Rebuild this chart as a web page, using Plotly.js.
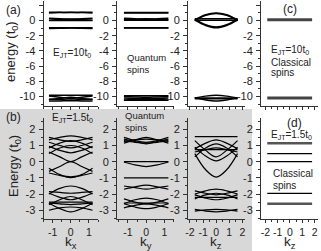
<!DOCTYPE html>
<html><head><meta charset="utf-8">
<script src="https://cdn.plot.ly/plotly-3.0.1.min.js"></script>
<style>html,body{margin:0;padding:0;background:#fff}#g{width:321px;height:251px}</style>
</head><body><div id="g"></div>
<script>
// ---- k grids (x positions of band sample points) ----
const kx = [-1.2, -0.6, 0, 0.6, 1.2];
const ky = [-1.22, -0.61, 0, 0.61, 1.22];
const kz = [-1.63, -0.8, 0, 0.8, 1.63];
const kc = [-1.85, 1.8];

// ---- (a) E_JT = 10 t0, quantum spins ----
const aKx = [
  [1.0, 1.05, 1.1, 1.05, 1.0], [1.1, 1.08, 1.05, 1.08, 1.1],
  [0.3, 0.22, 0.15, 0.22, 0.3], [0.05, 0.12, 0.2, 0.12, 0.05], [0.0, 0.0, 0.0, 0.0, 0.0],
  [-0.95, -0.95, -0.95, -0.95, -0.95], [-1.05, -1.02, -1.0, -1.02, -1.05],
  [-9.85, -9.85, -9.85, -9.85, -9.85], [-9.95, -10.1, -10.25, -10.1, -9.95],
  [-10.4, -10.25, -10.1, -10.25, -10.4], [-10.35, -10.4, -10.45, -10.4, -10.35],
  [-10.6, -10.58, -10.55, -10.58, -10.6]
];
const aKy = [
  [1.05, 1.05, 1.05, 1.05, 1.05], [1.0, 1.0, 1.0, 1.0, 1.0],
  [0.3, 0.25, 0.15, 0.25, 0.3], [0.1, 0.15, 0.25, 0.15, 0.1], [0.02, 0.02, 0.02, 0.02, 0.02],
  [-0.95, -0.95, -0.95, -0.95, -0.95], [-1.0, -1.0, -1.0, -1.0, -1.0],
  [-9.9, -9.9, -9.9, -9.9, -9.9], [-10.0, -10.05, -10.1, -10.05, -10.0],
  [-10.2, -10.25, -10.3, -10.25, -10.2], [-10.45, -10.4, -10.35, -10.4, -10.45],
  [-10.5, -10.5, -10.5, -10.5, -10.5]
];
const aKz = [
  [0.0, 0.75, 1.0, 0.75, 0.0], [0.1, 0.7, 0.92, 0.7, 0.1],
  [0.05, -0.65, -0.95, -0.65, 0.05], [0.15, -0.55, -0.85, -0.55, 0.15],
  [0.25, 0.25, 0.25, 0.25, 0.25], [0.05, 0.05, 0.05, 0.05, 0.05],
  [-10.2, -9.95, -9.85, -9.95, -10.2], [-10.15, -10.45, -10.6, -10.45, -10.15],
  [-10.2, -10.2, -10.2, -10.2, -10.2], [-10.3, -10.3, -10.3, -10.3, -10.3]
];
// (c) classical spins, E_JT = 10 t0
const cLevels = [0.1, -10.2];

// ---- (b) E_JT = 1.5 t0, quantum spins ----
const bKx = [
  [1.35, 1.5, 1.6, 1.5, 1.35], [1.5, 1.35, 1.25, 1.35, 1.5],
  [1.2, 1.0, 0.85, 1.0, 1.2], [0.85, 1.15, 1.3, 1.15, 0.85],
  [0.5, 0.85, 1.0, 0.85, 0.5], [0.95, 0.7, 0.55, 0.7, 0.95],
  [0.6, 0.3, 0.0, 0.3, 0.6], [-0.6, -0.3, 0.0, -0.3, -0.6],
  [-0.4, -0.8, -0.98, -0.8, -0.4], [-0.7, -0.85, -0.93, -0.85, -0.7],
  [-2.0, -1.65, -1.5, -1.65, -2.0], [-1.85, -1.9, -1.95, -1.9, -1.85],
  [-1.95, -2.2, -2.35, -2.2, -1.95], [-2.65, -2.35, -2.15, -2.35, -2.65],
  [-2.5, -2.5, -2.5, -2.5, -2.5], [-2.55, -2.6, -2.65, -2.6, -2.55],
  [-2.55, -2.9, -3.1, -2.9, -2.55], [-3.0, -2.85, -2.8, -2.85, -3.0]
];
const bKy = [
  [1.15, 1.35, 1.5, 1.35, 1.15], [1.5, 1.3, 1.2, 1.3, 1.5],
  [1.25, 1.35, 1.4, 1.35, 1.25], [1.4, 1.25, 1.1, 1.25, 1.4],
  [1.3, 1.2, 1.15, 1.2, 1.3],
  [0.0, 0.0, 0.0, 0.0, 0.0], [-0.02, -0.2, -0.3, -0.2, -0.02],
  [-1.0, -1.0, -1.0, -1.0, -1.0],
  [-1.7, -1.55, -1.45, -1.55, -1.7], [-1.5, -1.6, -1.7, -1.6, -1.5],
  [-2.6, -2.35, -2.25, -2.35, -2.6], [-2.3, -2.5, -2.6, -2.5, -2.3],
  [-2.55, -2.55, -2.55, -2.55, -2.55], [-2.85, -2.7, -2.6, -2.7, -2.85],
  [-2.6, -2.8, -2.9, -2.8, -2.6]
];
const bKz = [
  [1.55, 1.55, 1.55, 1.55, 1.55], [0.8, 1.15, 1.35, 1.15, 0.8],
  [0.3, 0.85, 1.1, 0.85, 0.3], [0.75, 0.75, 0.75, 0.75, 0.75],
  [1.3, 0.7, 0.3, 0.7, 1.3], [0.9, 0.35, 0.05, 0.35, 0.9],
  [0.5, -0.5, -0.95, -0.5, 0.5], [0.6, 0.75, 0.85, 0.75, 0.6],
  [-2.0, -1.8, -1.7, -1.8, -2.0], [-1.8, -1.95, -2.05, -1.95, -1.8],
  [-2.3, -2.05, -1.95, -2.05, -2.3], [-2.2, -2.2, -2.2, -2.2, -2.2],
  [-2.05, -2.25, -2.35, -2.25, -2.05],
  [-3.05, -2.98, -2.95, -2.98, -3.05], [-2.95, -3.05, -3.1, -3.05, -2.95]
];
// (d) classical spins, E_JT = 1.5 t0
const dLevels = [1.14, 0.5, 0.0, -1.96, -2.6];
const dThick = [true, false, false, false, true];

// tick labels
const kTicks12 = [-1, 0, 1];
const kTicks34 = [-2, -1, 0, 1, 2];
const eTicksTop = [-10, -8, -6, -4, -2, 0, 2];
const eTicksBot = [-3, -2, -1, 0, 1, 2];

// ---- layout geometry (pixels) ----
const W = 321, H = 251;
const fx = p => p / W, fy = p => 1 - p / H;
const cols = [
  {l: 43.5, r: 98, range: [-1.5, 1.5], ticks: kTicks12},
  {l: 117, r: 173.5, range: [-1.6, 1.5], ticks: kTicks12},
  {l: 188, r: 245, range: [-2.15, 2.2], ticks: kTicks34},
  {l: 261, r: 318, range: [-2.36, 2.28], ticks: kTicks34}
];
const rows = [
  {t: 1, b: 106, range: [-11.25, 2.57], ticks: eTicksTop, minor: 1},
  {t: 118, b: 219, range: [-3.54, 2.7], ticks: eTicksBot, minor: 0.5}
];
const hy = v => String(v).replace('\u2212', '-');
const FONT = 'Arial, "Liberation Sans", sans-serif';

const traces = [];
const ax = p => (p === 1 ? '' : String(p));
function addBands(p, ks, bands, w, color) {
  bands.forEach(b => traces.push({
    x: ks, y: b, xaxis: 'x' + ax(p), yaxis: 'y' + ax(p), type: 'scatter', mode: 'lines',
    line: {color: color, width: w, shape: 'spline', smoothing: 1},
    hoverinfo: 'skip', showlegend: false
  }));
}
addBands(1, kx, aKx, 1.5, '#000');
addBands(2, ky, aKy, 1.5, '#000');
addBands(3, kz, aKz, 1.5, '#000');
addBands(4, kc, cLevels.map(v => [v, v]), 3, '#444');
addBands(5, kx, bKx, 1.2, '#000');
addBands(6, ky, bKy, 1.2, '#000');
addBands(7, kz, bKz, 1.2, '#000');
dLevels.forEach((v, i) => addBands(8, kc, [[v, v]], dThick[i] ? 2.6 : 1.2, dThick[i] ? '#555' : '#000'));

const layout = {
  width: W, height: H, margin: {l: 0, r: 0, t: 0, b: 0},
  paper_bgcolor: '#fff', plot_bgcolor: 'rgba(0,0,0,0)',
  font: {family: FONT, size: 11, color: '#222'},
  showlegend: false,
  shapes: [{type: 'rect', xref: 'paper', yref: 'paper', x0: 0, x1: fx(252), y0: 0, y1: fy(109),
    fillcolor: '#d8d8d8', line: {width: 0}, layer: 'below'}],
  annotations: []
};
for (let r = 0; r < 2; r++) {
  for (let c = 0; c < 4; c++) {
    const p = r * 4 + c + 1;
    const C = cols[c], R = rows[r];
    layout['xaxis' + ax(p)] = {
      domain: [fx(C.l), fx(C.r)], range: C.range, anchor: 'y' + ax(p),
      showline: true, linecolor: '#333', linewidth: 1, mirror: false,
      showgrid: false, zeroline: false, ticks: 'outside', ticklen: 3, tickwidth: 1, tickcolor: '#333',
      tickvals: C.ticks, ticktext: C.ticks.map(hy), showticklabels: r === 1, ticklabelstandoff: 0,
      tickfont: {size: 10.5, color: '#222', family: FONT},
      minor: {dtick: 0.5, ticks: 'outside', ticklen: 2, tickcolor: '#333', showgrid: false},
      fixedrange: true
    };
    layout['yaxis' + ax(p)] = {
      domain: [fy(R.b), fy(R.t)], range: R.range, anchor: 'x' + ax(p),
      showline: true, linecolor: '#333', linewidth: 1, mirror: false,
      showgrid: false, zeroline: false, ticks: 'outside', ticklen: 4, tickwidth: 1, tickcolor: '#333',
      tickvals: R.ticks, ticktext: R.ticks.map(hy), ticklabelstandoff: 1,
      tickfont: {size: 11, color: '#222', family: FONT},
      minor: {dtick: R.minor, ticks: 'outside', ticklen: 2, tickcolor: '#333', showgrid: false},
      fixedrange: true
    };
  }
}
function ann(text, x, y, size, xanchor, extra) {
  layout.annotations.push(Object.assign({
    text: text, xref: 'paper', yref: 'paper', x: fx(x), y: fy(y), showarrow: false,
    xanchor: xanchor || 'center', yanchor: 'middle', align: 'left', borderpad: 0,
    font: {family: FONT, size: size, color: '#222'}
  }, extra || {}));
}
ann('(a)', 13, 10, 12);
ann('(b)', 13, 117, 12);
ann('(c)', 290, 9, 12);
ann('(d)', 294, 123, 12);
ann('E<sub>JT</sub>=10t<sub>0</sub>', 72, 53, 10);
ann('Quantum<br>spins', 126, 63, 9.5, 'left');
ann('E<sub>JT</sub>=10t<sub>0</sub>', 270, 50, 10, 'left');
ann('Classical', 270, 62, 10, 'left');
ann('spins', 270, 73, 10, 'left');
ann('E<sub>JT</sub>=1.5t<sub>0</sub>', 72, 118, 10);
ann('Quantum<br>spins', 124, 121, 9.5, 'left');
ann('E<sub>JT</sub>=1.5t<sub>0</sub>', 270, 135, 10, 'left');
ann('Classical', 272, 173, 10, 'left');
ann('spins', 272, 185, 10, 'left');
ann('energy (t<sub>0</sub>)', 11, 52, 13, 'center', {textangle: -90});
ann('Energy (t<sub>0</sub>)', 14, 166, 13, 'center', {textangle: -90});
ann('k<sub>x</sub>', 71, 242, 13.5);
ann('k<sub>y</sub>', 146, 242, 13.5);
ann('k<sub>z</sub>', 216, 242, 13.5);
ann('k<sub>z</sub>', 290, 242, 13.5);

Plotly.newPlot('g', traces, layout, {staticPlot: true, displayModeBar: false});
</script>
</body></html>
